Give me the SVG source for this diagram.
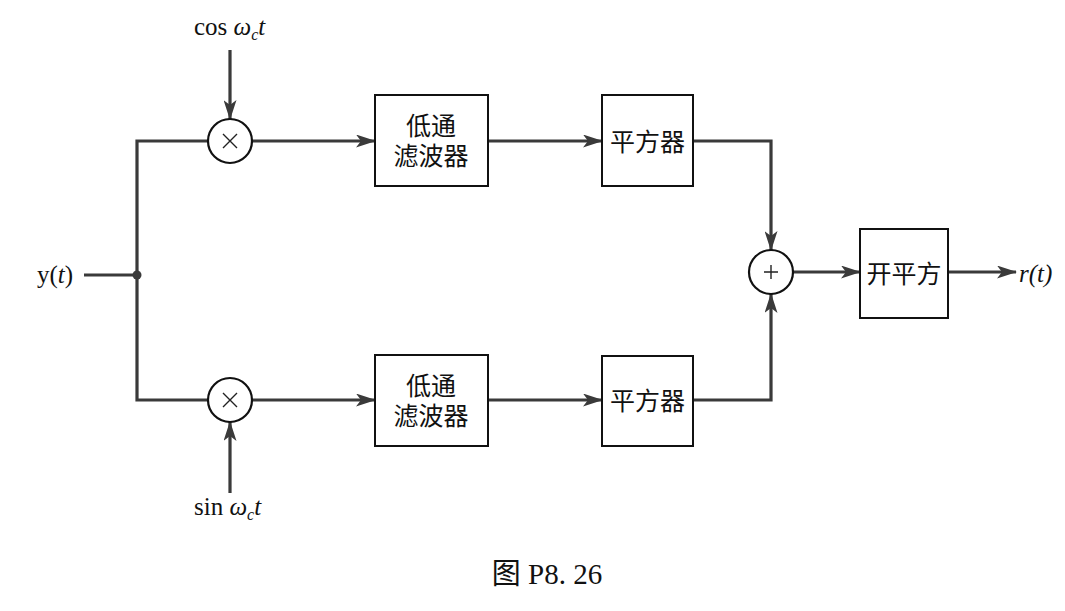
<svg xmlns="http://www.w3.org/2000/svg" width="1065" height="611" viewBox="0 0 1065 611">
  <style>
    .wire { fill: none; stroke: #3a3a3a; stroke-width: 3.2; }
    .box { fill: #fff; stroke: #111; stroke-width: 2; }
    .op { fill: #fff; stroke: #111; stroke-width: 2.2; }
    .sym { fill: none; stroke: #222; stroke-width: 1.4; }
    .cn { font-family: "Liberation Serif", "Noto Sans CJK SC", serif; font-size: 25px; fill: #111; text-anchor: middle; }
    .lbl { font-family: "Liberation Serif", serif; font-size: 25px; fill: #111; }
    .it { font-style: italic; }
    .sub { font-size: 16px; }
    .caption { font-size: 29px; }
  </style>
  <defs>
    <marker id="arrow" viewBox="0 0 20 13" refX="19" refY="6.5" markerWidth="20" markerHeight="13" markerUnits="userSpaceOnUse" orient="auto">
      <path d="M0,0 L20,6.5 L0,13 L5,6.5 z" fill="#3a3a3a"/>
    </marker>
  </defs>

  <g id="connectors">
    <!-- input and split -->
    <path class="wire" d="M84,275 H137"/>
    <path class="wire" d="M208,141 H137 V400 H208"/>
    <!-- carriers into multipliers -->
    <path class="wire" d="M230,50 V119" marker-end="url(#arrow)"/>
    <path class="wire" d="M230,493 V422" marker-end="url(#arrow)"/>
    <!-- upper branch -->
    <path class="wire" d="M252,141 H375" marker-end="url(#arrow)"/>
    <path class="wire" d="M488,141 H602" marker-end="url(#arrow)"/>
    <path class="wire" d="M693,141 H771 V250" marker-end="url(#arrow)"/>
    <!-- lower branch -->
    <path class="wire" d="M252,400 H375" marker-end="url(#arrow)"/>
    <path class="wire" d="M488,400 H602" marker-end="url(#arrow)"/>
    <path class="wire" d="M693,400 H771 V294" marker-end="url(#arrow)"/>
    <!-- output -->
    <path class="wire" d="M793,272 H860" marker-end="url(#arrow)"/>
    <path class="wire" d="M948,272 H1016" marker-end="url(#arrow)"/>
    <circle cx="137" cy="275" r="4.5" fill="#3a3a3a"/>
  </g>

  <g id="mul-top">
    <circle class="op" cx="230" cy="141" r="22"/>
    <path class="sym" d="M223,134 L237,148 M237,134 L223,148"/>
  </g>
  <g id="mul-bottom">
    <circle class="op" cx="230" cy="400" r="22"/>
    <path class="sym" d="M223,393 L237,407 M237,393 L223,407"/>
  </g>

  <g id="lpf-top">
    <rect class="box" x="375" y="95" width="113" height="91"/>
    <text class="cn" x="431" y="135">低通</text>
    <text class="cn" x="431" y="165">滤波器</text>
  </g>
  <g id="lpf-bottom">
    <rect class="box" x="375" y="355" width="113" height="91"/>
    <text class="cn" x="431" y="395">低通</text>
    <text class="cn" x="431" y="425">滤波器</text>
  </g>

  <g id="sq-top">
    <rect class="box" x="602" y="95" width="91" height="91"/>
    <text class="cn" x="647.5" y="151">平方器</text>
  </g>
  <g id="sq-bottom">
    <rect class="box" x="602" y="356" width="91" height="90"/>
    <text class="cn" x="647.5" y="410">平方器</text>
  </g>

  <g id="sum">
    <circle class="op" cx="771" cy="272" r="22"/>
    <path class="sym" d="M771,265 V279 M764,272 H778"/>
  </g>

  <g id="sqrt">
    <rect class="box" x="860" y="229" width="88" height="89"/>
    <text class="cn" x="904" y="283">开平方</text>
  </g>

  <g id="labels">
    <text class="lbl" x="194" y="35">cos <tspan class="it">ω</tspan><tspan class="it sub" dy="5">c</tspan><tspan class="it" dy="-5">t</tspan></text>
    <text class="lbl" x="194" y="515">sin <tspan class="it">ω</tspan><tspan class="it sub" dy="5">c</tspan><tspan class="it" dy="-5">t</tspan></text>
    <text class="lbl" x="37" y="283">y(<tspan class="it">t</tspan>)</text>
    <text class="lbl it" x="1019" y="282">r(t)</text>
    <text class="cn caption" x="547" y="584">图 P8. 26</text>
  </g>
</svg>
